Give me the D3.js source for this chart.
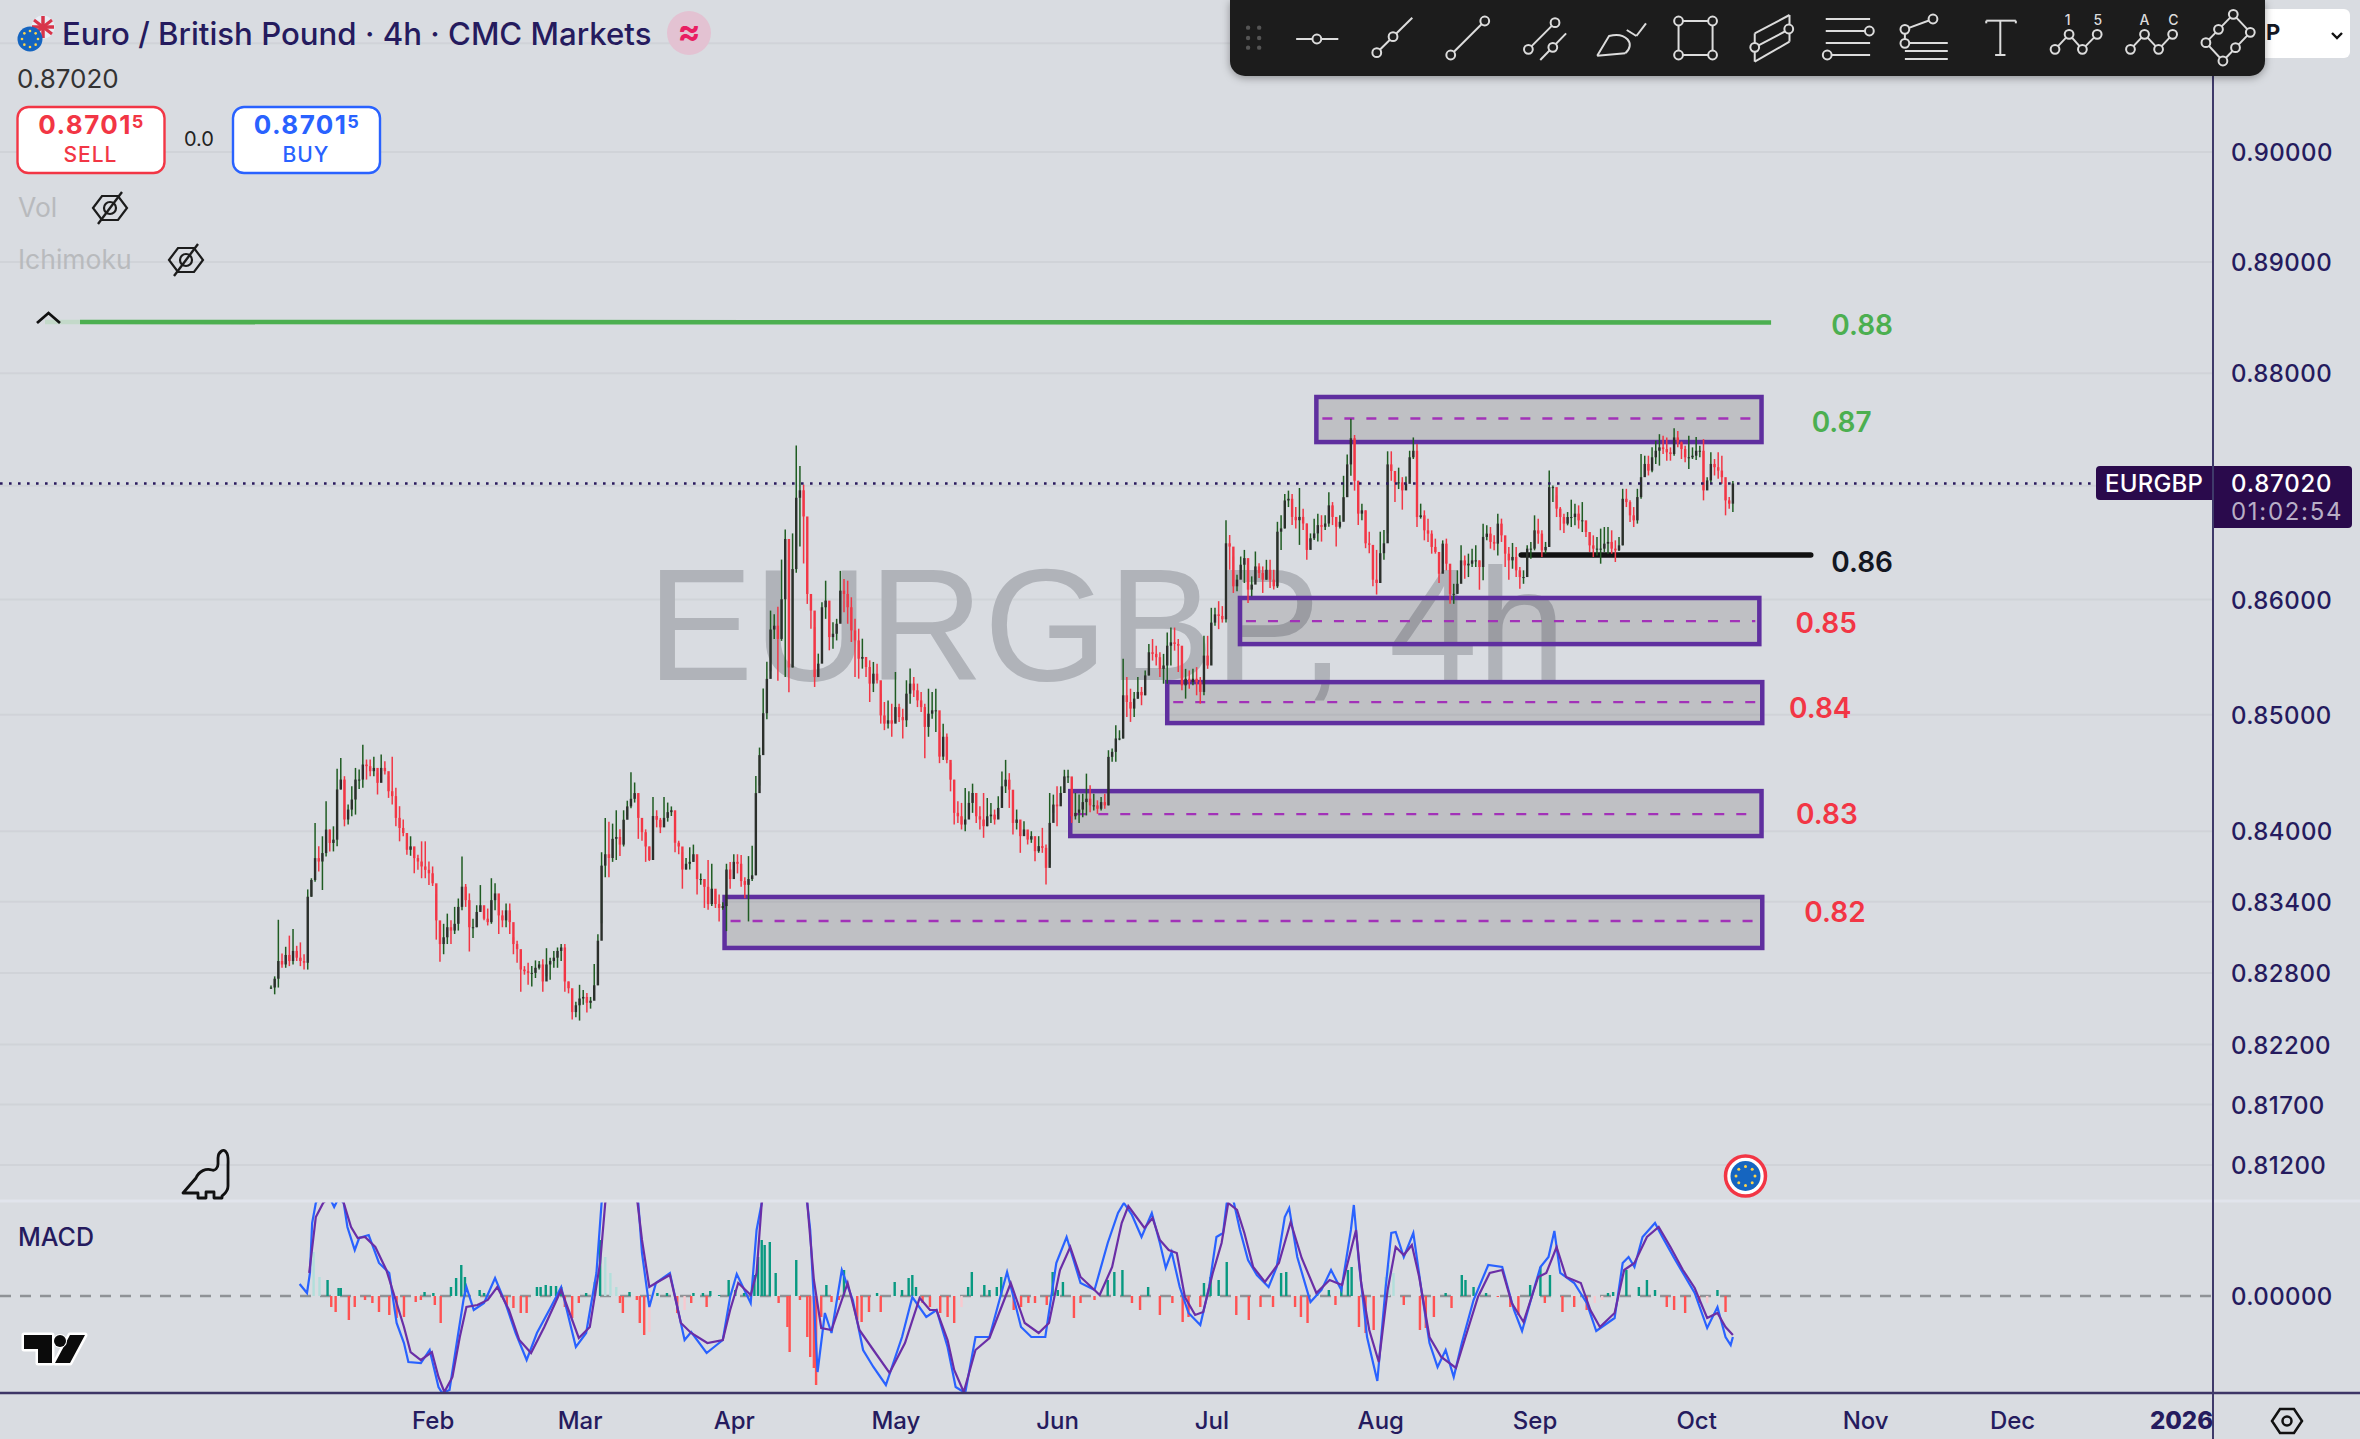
<!DOCTYPE html>
<html><head><meta charset="utf-8"><title>EURGBP 4h</title>
<script src="https://cdn.jsdelivr.net/npm/d3@7"></script>
<style>html,body{margin:0;padding:0;background:#d9dce1;overflow:hidden}svg{display:block;font-family:Inter,"Noto Sans",sans-serif}</style>
</head><body><div id="chart"></div>
<script>
// Candle values (12h steps, in 0.00001 price units)
const highs=[
82694,82771,83248,82963,83020,83114,83171,83028,83057,82957,
83505,83600,84071,83871,83957,84257,84014,84042,84534,84628,
84471,84228,84385,84542,84528,84742,84614,84614,84637,84500,
84657,84600,84471,84637,84371,84214,84100,83962,83957,83857,
83800,83914,83914,83742,83700,83465,83185,83214,83300,83243,
83357,83428,83785,83551,83471,83257,83371,83542,83357,83343,
83600,83557,83414,83328,83385,83385,83100,83071,82985,82857,
82885,82857,82905,82900,82914,83008,82928,82985,83014,83043,
83043,82728,82614,82557,82700,82657,82631,82598,82875,83126,
83821,84114,84082,84065,84179,84016,84179,84261,84505,84417,
84326,84049,84016,83870,84293,84179,84114,84293,84245,84212,
84114,83919,83821,83772,83863,83886,83755,83641,83593,83755,
83723,83495,83462,83397,83723,83739,83804,83804,83798,83609,
83788,83876,84473,84717,85227,85459,85904,85871,85937,86350,
86614,85591,86580,87356,87175,87010,86367,86020,85760,85529,
85977,86165,85832,85803,85832,86251,86179,86165,86020,85832,
85746,85659,85471,85471,85457,85442,85182,85110,85124,85095,
85370,85095,85052,85298,85399,85326,85269,85196,85095,85225,
85196,85225,84852,84923,84838,84583,84441,84256,84242,84370,
84341,84407,84327,84213,84327,84284,84242,84185,84299,84512,
84611,84497,84242,84185,84071,84086,83986,84000,83944,83958,
84029,83887,84327,84313,84384,84384,84526,84526,84455,84327,
84313,84321,84493,84393,84321,84264,84292,84321,84694,84709,
84909,84866,85484,85326,85225,85197,85326,85240,85383,85613,
85656,85598,85541,85527,85713,85756,85756,85656,85354,85397,
85383,85397,85412,85326,85684,85684,85928,85928,85986,85943,
86696,86566,86377,86218,86377,86435,86203,86203,86421,86319,
86290,86348,86348,86261,86682,86740,86928,86957,86928,86812,
86980,86798,86667,86580,86710,86754,86740,86740,86943,86856,
86696,86740,87088,87276,87595,87450,87044,86841,86783,86595,
86435,86435,86595,86609,87305,87305,87102,87160,87076,87082,
87310,87428,87369,86842,86783,86710,86607,86534,86343,86519,
86534,86285,86138,86256,86475,86387,86402,86446,86475,86343,
86666,86651,86636,86563,86754,86710,86519,86461,86496,86461,
86285,86256,86475,86505,86739,86710,86607,86505,87134,87003,
86915,86812,86754,86768,86877,86842,86827,86856,86680,86592,
86563,86549,86622,86636,86636,86607,86519,86549,86973,86973,
86871,86812,86973,87281,87266,87266,87340,87398,87457,87442,
87428,87340,87510,87486,87392,87354,87442,87340,87433,87354,
87413,87076,87296,87237,87296,87266,87003,86900,87041];
const lows=[
82665,82620,82677,82843,82843,82857,82871,82900,82857,82828,
82828,83443,83571,83657,83500,83785,83828,83828,83871,84357,
84042,84057,84128,84142,84362,84371,84442,84471,84471,84314,
84442,84485,84285,84228,84042,83914,83957,83800,83791,83642,
83671,83600,83600,83542,83534,83080,82894,82957,83043,83043,
83128,83157,83328,83357,82980,83094,83185,83328,83243,83200,
83214,83328,83128,83185,83185,83128,82957,82885,82642,82785,
82700,82685,82757,82828,82642,82771,82742,82843,82843,82900,
82642,82628,82408,82428,82400,82533,82468,82500,82598,82696,
83218,83609,83609,83739,83755,83788,83870,84130,84196,84245,
83935,83919,83739,83746,83755,84033,83984,84065,84082,84130,
83821,83804,83511,83674,83674,83739,83462,83544,83348,83332,
83364,83348,83234,83332,83152,83511,83609,83641,83527,83430,
83234,83576,83625,84391,84701,84962,85376,85657,85294,85640,
85327,85195,85409,86234,86465,86316,85962,85746,85240,85341,
85500,85832,85558,85572,85644,85803,85890,85789,85630,85326,
85312,85399,85326,85110,85196,85269,84923,84867,84881,84810,
84938,84938,84796,84895,85095,85153,85066,85023,84625,84810,
84966,84852,84583,84611,84583,84341,84057,84071,84015,84000,
84128,84157,84071,84015,83944,84043,84071,84057,84128,84256,
84327,84199,83972,84015,83816,83972,83887,83901,83745,83816,
83816,83546,83716,84157,84043,84242,84327,84412,84071,84100,
84071,84120,84135,84163,84178,84149,84178,84192,84221,84594,
84594,84780,84795,84981,84938,84981,85139,85082,85168,85340,
85469,85426,85326,85268,85268,85426,85555,85369,85211,85139,
85225,85254,85168,85096,85168,85397,85570,85771,85742,85799,
85799,86261,86058,86073,86232,86145,85971,86029,86174,86189,
86058,86174,86102,86087,86102,86435,86624,86812,86653,86624,
86479,86609,86348,86508,86522,86508,86508,86609,86638,86653,
86464,86624,86696,86928,87088,86957,86653,86696,86450,86406,
86116,86044,86319,86348,86580,87044,86856,86971,86789,86970,
87076,87237,86636,86710,86519,86504,86402,86402,86144,86314,
86256,85963,85963,86050,86226,86182,86197,86285,86285,86086,
86168,86519,86446,86431,86387,86505,86285,86173,86270,86197,
86094,86138,86343,86358,86431,86490,86373,86402,86461,86856,
86724,86607,86584,86651,86636,86651,86622,86592,86549,86417,
86373,86387,86314,86417,86402,86402,86329,86425,86475,86812,
86680,86636,86666,86885,87091,87091,87120,87193,87178,87281,
87222,87222,87266,87340,87237,87208,87149,87237,87228,87252,
86871,87003,87017,87091,87061,87017,86739,86798,86768];
const closes=[
82677,82751,82900,82871,82951,82900,82985,82928,82900,82885,
83443,83585,83771,83742,83814,84014,83900,83928,84357,84442,
84100,84185,84271,84442,84442,84571,84557,84514,84542,84414,
84542,84514,84342,84300,84114,84028,83985,83842,83871,83771,
83742,83700,83671,83642,83557,83243,83043,83100,83185,83157,
83214,83357,83528,83414,83185,83185,83314,83371,83257,83228,
83414,83471,83285,83243,83328,83228,83043,83000,82828,82814,
82800,82800,82843,82871,82728,82871,82900,82928,82985,83014,
82728,82671,82471,82528,82585,82598,82549,82566,82696,83071,
83707,83804,83772,83935,83951,83886,84098,84212,84277,84326,
84114,83992,83870,83755,84130,84098,84033,84114,84163,84179,
83902,83870,83674,83723,83739,83804,83593,83593,83527,83381,
83511,83381,83348,83364,83674,83593,83739,83723,83576,83544,
83593,83625,84326,84652,85013,85310,85739,85772,85657,86003,
86531,85409,86267,86894,86960,86729,86049,85904,85326,85442,
85933,85991,85673,85702,85789,86078,86049,85933,85731,85644,
85485,85500,85413,85269,85355,85298,84994,84923,84952,84923,
85066,84980,84952,85182,85269,85211,85124,85066,84895,85009,
85038,85038,84639,84810,84611,84441,84157,84128,84057,84100,
84242,84327,84128,84100,84043,84128,84142,84100,84199,84384,
84441,84355,84071,84100,83958,84015,83929,83958,83830,83873,
83858,83688,84071,84228,84213,84327,84469,84469,84128,84157,
84185,84249,84278,84221,84221,84192,84249,84221,84637,84680,
84795,84795,85168,85110,85053,85139,85197,85168,85340,85541,
85527,85498,85397,85426,85598,85627,85613,85598,85254,85311,
85283,85311,85283,85197,85512,85426,85799,85871,85857,85828,
86493,86464,86116,86174,86305,86363,86087,86131,86290,86232,
86174,86261,86174,86116,86595,86624,86870,86885,86725,86696,
86725,86667,86435,86537,86580,86653,86638,86667,86827,86725,
86638,86682,86899,87189,87421,87044,86754,86783,86493,86479,
86174,86145,86406,86493,87189,87131,87030,87030,86959,87017,
87252,87310,86724,86739,86607,86578,86461,86417,86226,86490,
86314,86050,86050,86138,86343,86299,86314,86343,86343,86285,
86549,86578,86505,86490,86666,86563,86402,86343,86373,86256,
86197,86197,86446,86446,86607,86578,86431,86461,86988,86988,
86798,86724,86666,86724,86724,86754,86695,86695,86592,86475,
86446,86446,86446,86490,86505,86446,86431,86475,86885,86856,
86739,86695,86900,87076,87193,87134,87252,87310,87340,87325,
87296,87281,87428,87384,87325,87252,87252,87266,87310,87310,
86959,87047,87193,87164,87134,87076,86871,86842,87020];

// MACD pane, values in 0.00001 units, read at the day positions listed
const macdDays=[3.9,4.9,5.3,5.6,6.1,6.9,8,8.6,9.2,9.9,10.4,11.4,12,13.3,14.7,16.1,17.1,18.1,18.7,20.4,21.6,22.8,23.3,24.3,25.2,26.2,26.6,27.6,29,30.5,31.9,33.3,34.8,36.2,38.1,39.5,41.5,42.9,44.3,45,45.5,47.2,49.1,50,50.5,51.5,52.4,54.3,56.3,57.2,59.3,61.5,62.5,63.4,65.3,66.1,66.8,67.7,71,73,73.4,74.4,75.4,76.3,77.7,79.2,80.6,82,83.7,85.9,87.3,89.2,90.6,92.1,93.2,94.5,95.9,97.8,100.2,102.1,103.5,105.4,106.9,108.3,110.2,112.1,113.9,115.3,116.1,117.2,118.5,119.9,121,121.8,122.6,123.7,124.9,126.5,127.7,128.7,129.6,130.1,130.9,131.9,133,134.2,135.8,136.9,138,138.6,139.7,141.5,143,144.3,145.7,147,147.4,148.1,149.2,150.6,151.7,152.5,153.1,154.2,155.5,156.6,157.7,158.8,159.9,161,162.1,163.7,165.7,167.6,169.2,170.3,172,172.8,173.9,174.7,175.5,177.4,179.1,180.4,182.9,184,184.8,185.6,186.7,188.4,189.4,191,192.2,193.8,195.5,196.9,198,198.7,199];
const macdVals=[12,3,23,73,93,103,98,89,98,93,69,46,58,61,33,23,-27,-47,-66,-67,-54,-91,-97,-94,-51,-4,9,-14,-7,18,-7,-37,-64,-37,-11,9,-51,-37,23,93,109,116,109,93,43,-11,13,23,-44,-36,-57,-44,-1,22,-7,66,93,126,126,93,66,-76,-17,-37,26,-4,-54,-71,-89,-41,-1,-21,-14,-51,-91,-97,-41,-41,24,-31,-41,-41,33,59,13,6,53,83,93,81,59,83,53,28,44,9,-17,-29,9,59,63,93,99,66,36,21,9,29,79,88,39,-6,6,26,6,66,91,33,-41,-85,6,63,64,39,63,6,-47,-71,-54,-81,-47,-4,31,29,-14,-35,9,29,39,65,23,13,-7,-35,-22,33,39,29,59,73,59,38,23,3,-32,-11,-41,-49,-41];
const signalDays=[5.2,6.1,7.1,9,9.9,10.9,11.8,12.8,14.2,15.7,17.1,18.1,19,20.4,21.9,22.8,23.6,24.7,25.7,26.6,28.1,29.5,30.8,32.4,33.8,35.4,37.2,39.5,41.9,43.4,44.8,45.5,46.2,49.1,49.9,50.5,51.5,52.4,54.3,55.8,57.2,59.4,61.5,62.5,63.6,65.3,66.1,66.8,68.2,72.5,73,73.9,74.9,76.3,78.5,80.1,82,84.2,86.3,88.3,89.7,90.6,92.1,93,94.3,95.9,97.8,100.7,102.6,104.5,105.9,107.4,108.8,110.2,112.1,112.8,114.5,115.8,116.7,117.8,118.9,120,121,122.2,123.3,124.4,125.8,126.9,128.2,129.4,130.3,131.5,132.5,133.7,135.3,137.2,138.8,140.3,142.3,144.1,145.8,147.7,148.4,149.5,150.8,152,153.1,154.2,155.3,156.3,157.7,159.3,161.3,162.6,164.3,165.9,167.6,168.9,170.5,172.5,173.6,175,176.3,178.3,179.6,180.9,182.9,184.2,185.6,187.3,188.9,190.5,192.2,193.8,195.5,196.9,198,199];
const signalVals=[23,79,93,106,93,69,58,59,49,26,-7,-31,-56,-64,-56,-81,-96,-81,-41,-11,-9,-4,9,-14,-44,-57,-31,6,-42,-31,33,93,116,109,93,56,9,13,21,-27,-37,-47,-44,-14,13,1,23,93,123,123,93,16,-32,-34,13,-34,-54,-77,-47,-2,-14,-14,-44,-74,-96,-54,-42,13,-27,-37,-27,26,49,19,6,1,29,73,90,79,68,78,56,46,43,-1,-19,-16,23,53,93,86,63,29,14,33,74,38,3,16,11,66,13,-34,-66,6,49,41,51,19,-41,-61,-72,-41,-1,23,26,-7,-26,19,23,49,19,13,-14,-31,-17,26,33,59,69,49,26,8,-22,-17,-31,-39];
const histDays=[5.8,6.6,7.7,8.2,8.8,9.2,9.5,10.6,11.4,12.8,13.8,14.7,16.1,17.1,18.1,19.7,20.4,20.9,22.1,22.3,23.1,24.5,25.2,25.9,26.4,28.4,29,32.1,33,34,34.8,36.2,36.7,37.4,38.1,38.8,39.5,40,41,41.9,42.9,44.1,44.8,45.5,46.2,47,47.5,47.9,48.8,49.8,50.2,50.8,51.5,52.6,53.9,55.3,56.3,57.2,57.5,58.8,59.3,59.8,61,62.3,63.2,64.4,65.8,66.3,66.8,67.2,67.9,68.7,69.1,70.3,70.6,71.5,72,73,73.4,73.9,74.2,74.9,75.6,76.3,77.3,78,79.8,80.4,81.4,82.5,83,84.9,85.9,86.8,87.3,87.8,88.7,89.7,91.1,92.1,93,94,94.9,95.4,97.1,97.8,98.8,99.4,101.1,102.1,103.1,104,105.6,106.4,107.1,107.8,109.3,110.2,112.1,113.9,114.8,115.9,117.2,118.3,119.4,121,122.7,124.1,124.9,126.5,127,127.9,129,130.1,131.4,133.1,134.7,136.4,137.5,138.2,139.4,140.2,141.1,142.4,144,144.9,145.7,146.6,147.1,148.1,149,150.1,151.7,152.2,152.8,154.2,156.4,157.2,158.3,159.9,160.7,162.1,162.6,163.7,165.4,167,168.7,169.8,171.4,172.8,173.4,174.1,175.8,177.4,179.1,180.2,181.2,182,182.7,184.5,186.2,187.3,188.4,190,191,192.5,194.4,195.5,196.9,198];
const histVals=[44,19,16,-11,-16,8,8,-24,-11,-4,-7,-16,-19,-22,-21,-6,-4,4,3,-9,-27,9,18,31,19,6,3,-9,-12,-17,-17,9,9,11,10,10,9,-11,-22,-7,3,14,56,39,23,9,-7,-17,4,-4,-27,-39,-36,3,3,-17,-14,-7,3,3,-11,5,1,16,6,3,21,39,56,51,54,23,-7,-31,-56,36,-4,-41,-61,-72,-89,-21,11,-6,-4,26,-24,-26,-16,3,-16,14,6,18,21,9,-7,-11,-17,-21,-27,-11,9,24,11,6,9,19,-14,-11,-7,-7,-9,24,6,14,-22,-7,-4,16,24,26,-7,-14,9,-19,-7,-26,-21,-11,13,19,16,34,-19,-24,-11,-11,23,24,-11,-21,-27,3,6,-9,9,26,29,-31,-37,-34,19,31,23,-9,-34,-32,-21,3,-12,21,16,9,3,-1,-11,-19,11,29,-7,21,-16,-11,-14,-7,-4,3,4,26,9,16,6,-11,-14,-17,-7,-7,6,-16];
const histFadedDays=[5.8,6.6,45.5,46.2,47,51.5,56.3,94,151.7,152.2,152.8,180.2,181.2,195.5];

// Axes
const monthLabels=["Feb","Mar","Apr","May","Jun","Jul","Aug","Sep","Oct","Nov","Dec","2026"];
const monthDays=[22,42,63,85,107,128,151,172,194,217,237,260];
const gridPrices=[0.91,0.90,0.89,0.88,0.87,0.86,0.85,0.84,0.834,0.828,0.822,0.817,0.812];
const labelledPrices=[0.90,0.89,0.88,0.86,0.85,0.84,0.834,0.828,0.822,0.817,0.812];

// Drawn zones and levels
const zoneNames=["0.87","0.85","0.84","0.83","0.82"];
const zoneTops=[0.87788,0.86014,0.85282,0.84343,0.83441];
const zoneBottoms=[0.87387,0.85612,0.84928,0.83959,0.83010];
const zoneMids=[0.87596,0.85812,0.85109,0.84146,0.83238];
const zoneStartDays=[142.3,131.9,122,108.8,61.74];
const zoneEndDays=[202.9,202.6,203,202.9,203];
const levelTexts=["0.88","0.87","0.86","0.85","0.84","0.83","0.82"];
const levelPrices=[0.88441,0.87574,0.86337,0.85808,0.85066,0.84156,0.83326];
const levelDays=[216.6,213.8,216.6,211.7,210.9,211.8,212.9];
const levelColors=["#4caf50","#4caf50","#131722","#f23645","#f23645","#f23645","#f23645"];
const lastPrice=0.8702;

const W=2360,H=1439,axisX=2213,paneTop=1202,paneBottom=1393;
const ink="#251b5e",bg="#d9dce1";
const svg=d3.select("#chart").append("svg").attr("width",W).attr("height",H).attr("viewBox",[0,0,W,H]);
svg.append("rect").attr("width",W).attr("height",H).attr("fill",bg);
const x=d3.scaleLinear().domain([0,260]).range([271,2181]);
const y=d3.scaleLog().domain([0.812,0.90]).range([1165,152]);
const my=d3.scaleLinear().domain([-97,94]).range([paneBottom,paneTop]);
const defs=svg.append("defs");
defs.append("clipPath").attr("id","pane").append("rect").attr("x",0).attr("y",paneTop).attr("width",axisX).attr("height",paneBottom-paneTop);
const sh=defs.append("filter").attr("id","shadow").attr("x","-5%").attr("y","-20%").attr("width","110%").attr("height","150%");
sh.append("feDropShadow").attr("dx",0).attr("dy",2).attr("stdDeviation",4).attr("flood-color","#000").attr("flood-opacity",.35);

// gridlines
svg.append("g").selectAll("line").data(gridPrices).join("line")
 .attr("x1",0).attr("x2",axisX).attr("y1",d=>y(d)).attr("y2",d=>y(d)).attr("stroke","#d0d3d8").attr("stroke-width",2);

// watermark
svg.append("text").text("EURGBP, 4h").attr("x",647).attr("y",680).attr("font-family","'Liberation Sans',Arial,sans-serif")
 .attr("font-size",159.5).attr("fill","#b0b3b9");

// zones
const zg=svg.append("g");
zg.selectAll("rect").data(zoneNames).join("rect")
 .attr("x",(d,i)=>x(zoneStartDays[i])).attr("width",(d,i)=>x(zoneEndDays[i])-x(zoneStartDays[i]))
 .attr("y",(d,i)=>y(zoneTops[i])).attr("height",(d,i)=>y(zoneBottoms[i])-y(zoneTops[i]))
 .attr("fill","rgba(18,6,10,.13)").attr("stroke","#5f2f9f").attr("stroke-width",4.5);
zg.selectAll("line").data(zoneNames).join("line")
 .attr("x1",(d,i)=>x(zoneStartDays[i])+6).attr("x2",(d,i)=>x(zoneEndDays[i])-4)
 .attr("y1",(d,i)=>y(zoneMids[i])).attr("y2",(d,i)=>y(zoneMids[i]))
 .attr("stroke","#a232b8").attr("stroke-width",2.4).attr("stroke-dasharray","10 12");

// level lines
svg.append("line").attr("x1",x(-26)).attr("x2",x(204.2)).attr("y1",y(0.88459)).attr("y2",y(0.88455)).attr("stroke","#4caf50").attr("stroke-width",4.6);
svg.append("line").attr("x1",45).attr("x2",x(-26)).attr("y1",y(0.88459)).attr("y2",y(0.88459)).attr("stroke","#c3d9c9").attr("stroke-width",4.6);
svg.append("line").attr("x1",x(170.2)).attr("x2",x(209.6)).attr("y1",y(0.8639)).attr("y2",y(0.8639)).attr("stroke","#111").attr("stroke-width",5.5).attr("stroke-linecap","round");
svg.append("g").selectAll("text").data(levelTexts).join("text").text(d=>d)
 .attr("x",(d,i)=>x(levelDays[i])).attr("y",(d,i)=>y(levelPrices[i])+1).attr("text-anchor","middle").attr("dominant-baseline","central")
 .attr("font-size",28).attr("font-weight",600).attr("fill",(d,i)=>levelColors[i]);

// candles
const candles=closes.map((c,i)=>({d:i/2,h:highs[i]/1e5,l:lows[i]/1e5,c:c/1e5,o:(i?closes[i-1]:c)/1e5}));
const cg=svg.append("g");
cg.selectAll("line").data(candles).join("line")
 .attr("x1",d=>x(d.d)).attr("x2",d=>x(d.d)).attr("y1",d=>y(d.h)).attr("y2",d=>y(d.l))
 .attr("stroke",d=>d.c>=d.o?"#1f5c22":"#f23645").attr("stroke-width",1.5);
cg.selectAll("rect").data(candles).join("rect")
 .attr("x",d=>x(d.d)-1.2).attr("width",2.4)
 .attr("y",d=>y(Math.max(d.o,d.c))).attr("height",d=>Math.max(1,Math.abs(y(d.o)-y(d.c))))
 .attr("fill",d=>d.c>=d.o?"#2b2f2b":"#f23645");

// last price line
svg.append("line").attr("x1",0).attr("x2",2096).attr("y1",y(lastPrice)).attr("y2",y(lastPrice))
 .attr("stroke","#2a1a5e").attr("stroke-width",2.4).attr("stroke-dasharray","2.6 6.4");

// MACD pane
const faded=new Set(histFadedDays);
const mg=svg.append("g").attr("clip-path","url(#pane)");
mg.append("line").attr("x1",0).attr("x2",axisX).attr("y1",my(0)).attr("y2",my(0)).attr("stroke","#8f9296").attr("stroke-width",2.4).attr("stroke-dasharray","11 9");
mg.selectAll("rect").data(histDays).join("rect")
 .attr("x",d=>x(d)-1.2).attr("width",2.4)
 .attr("y",(d,i)=>Math.min(my(histVals[i]),my(0))).attr("height",(d,i)=>Math.abs(my(histVals[i])-my(0)))
 .attr("fill",(d,i)=>histVals[i]>=0?(faded.has(d)?"#b2dfdb":"#089981"):(faded.has(d)?"#f8c9cf":"#ff5252"));
const lineGen=d3.line().x(d=>x(d[0])).y(d=>my(d[1]));
mg.append("path").attr("d",lineGen(macdDays.map((d,i)=>[d,macdVals[i]]))).attr("fill","none").attr("stroke","#2962ff").attr("stroke-width",2.2);
mg.append("path").attr("d",lineGen(signalDays.map((d,i)=>[d,signalVals[i]]))).attr("fill","none").attr("stroke","#6a2ea6").attr("stroke-width",2.2);

// separators
svg.append("line").attr("x1",0).attr("x2",W).attr("y1",1201).attr("y2",1201).attr("stroke","#e1e4ec").attr("stroke-width",3);
svg.append("line").attr("x1",0).attr("x2",W).attr("y1",paneBottom).attr("y2",paneBottom).attr("stroke","#3d3566").attr("stroke-width",2.6);
svg.append("line").attr("x1",axisX).attr("x2",axisX).attr("y1",0).attr("y2",H).attr("stroke","#3f3a6a").attr("stroke-width",2);

// axes
function styleAxis(g,size){g.select(".domain").remove();g.selectAll(".tick line").remove();
 g.selectAll("text").attr("fill",ink).attr("font-size",size).attr("font-family","Inter,sans-serif").attr("font-weight",500);}
svg.append("g").attr("transform",`translate(${axisX+18},1)`)
 .call(d3.axisRight(y).tickValues(labelledPrices).tickFormat(d3.format(".5f")).tickSize(0).tickPadding(0)).call(g=>styleAxis(g,24))
 .call(g=>g.selectAll("text").attr("letter-spacing",.4));
svg.append("g").attr("transform",`translate(${axisX+18},1)`)
 .call(d3.axisRight(my).tickValues([0]).tickFormat(d3.format(".5f")).tickSize(0).tickPadding(0)).call(g=>styleAxis(g,24))
 .call(g=>g.selectAll("text").attr("letter-spacing",.4));
svg.append("g").attr("transform",`translate(0,${paneBottom+14.500})`)
 .call(d3.axisBottom(x).tickValues(monthDays).tickFormat((d,i)=>monthLabels[i]).tickSize(0).tickPadding(0)).call(g=>styleAxis(g,24))
 .call(g=>g.selectAll("text").attr("dy","0.9em").attr("font-weight",(d,i)=>monthLabels[i]==="2026"?800:500));
// the last month label is cut by the price axis: cover what overflows
svg.append("rect").attr("x",axisX+1).attr("y",paneBottom+2).attr("width",W-axisX).attr("height",H-paneBottom).attr("fill",bg);

// price tags
const tag="#2a0a4c";
svg.append("path").attr("d","M2212,466H2100a4,4 0 0 0 -4,4V496a4,4 0 0 0 4,4H2212Z").attr("fill",tag);
svg.append("path").attr("d","M2214,466H2348a4,4 0 0 1 4,4V524a4,4 0 0 1 -4,4H2214Z").attr("fill",tag);
svg.append("text").text("EURGBP").attr("x",2105).attr("y",492).attr("font-size",24).attr("font-weight",500).attr("fill","#fff").attr("letter-spacing",.2);
svg.append("text").text("0.87020").attr("x",2231).attr("y",492).attr("font-size",24).attr("font-weight",500).attr("fill","#fff").attr("letter-spacing",.8);
svg.append("text").text("01:02:54").attr("x",2231).attr("y",520).attr("font-size",24).attr("font-weight",400).attr("fill","#b8aec6").attr("letter-spacing",1.7);

// header
const fl=svg.append("g");
fl.append("circle").attr("cx",43).attr("cy",27).attr("r",11.5).attr("fill","#e8ecf4");
fl.append("path").attr("d","M34,20L52,34M52,20L34,34").attr("stroke","#d8344a").attr("stroke-width",3);
fl.append("path").attr("d","M43,16V38M32,27H54").attr("stroke","#d8344a").attr("stroke-width",3.5);
fl.append("circle").attr("cx",30).attr("cy",39).attr("r",12.5).attr("fill","#1565c0");
d3.range(8).forEach(k=>fl.append("circle").attr("cx",30+8*Math.cos(k*Math.PI/4)).attr("cy",39+8*Math.sin(k*Math.PI/4)).attr("r",1.3).attr("fill","#ffd54a"));
svg.append("text").text("Euro / British Pound · 4h · CMC Markets").attr("x",62).attr("y",45).attr("font-size",31.2).attr("font-weight",500).attr("fill",ink);
svg.append("circle").attr("cx",689).attr("cy",33).attr("r",22).attr("fill","#e3c2d2");
svg.append("text").text("≈").attr("x",689).attr("y",43).attr("text-anchor","middle").attr("font-size",34).attr("font-weight",700).attr("fill","#e91e63");
svg.append("text").text("0.87020").attr("x",17).attr("y",88).attr("font-size",26).attr("fill","#333").attr("font-weight",400);

function priceBox(bx,col,big,small,lab){
 svg.append("rect").attr("x",bx).attr("y",107).attr("width",147).attr("height",66).attr("rx",11).attr("fill","#fff").attr("stroke",col).attr("stroke-width",2.4);
 const t=svg.append("text").attr("x",bx+74).attr("y",134).attr("text-anchor","middle").attr("fill",col).attr("font-weight",700).attr("font-size",26).attr("letter-spacing",1.4);
 t.append("tspan").text(big); t.append("tspan").text(small).attr("font-size",18).attr("dy",-6);
 svg.append("text").text(lab).attr("x",bx+73).attr("y",162).attr("text-anchor","middle").attr("fill",col).attr("font-size",21).attr("font-weight",500).attr("letter-spacing",1);
}
priceBox(17.5,"#f23645","0.8701","5","SELL");
priceBox(233,"#2962ff","0.8701","5","BUY");
svg.append("text").text("0.0").attr("x",199).attr("y",146).attr("text-anchor","middle").attr("font-size",20).attr("fill","#222");
svg.append("text").text("Vol").attr("x",18).attr("y",217).attr("font-size",26.5).attr("fill","#b8babd");
svg.append("text").text("Ichimoku").attr("x",18).attr("y",269).attr("font-size",26.5).attr("fill","#b8babd");
function eye(cx,cy){const g=svg.append("g").attr("transform",`translate(${cx},${cy})`).attr("fill","none").attr("stroke","#1c1c1c").attr("stroke-width",2.2);
 g.append("path").attr("d","M-17,0L-8,-12H8L17,0L8,12H-8Z");
 g.append("circle").attr("r",6);
 g.append("line").attr("x1",-12).attr("y1",16).attr("x2",12).attr("y2",-16).attr("stroke-width",2.4);}
eye(110,208); eye(186,260);
svg.append("path").attr("d","M37,323L48.500,313L60,323").attr("fill","none").attr("stroke","#111").attr("stroke-width",2.8);

// toolbar
const tX=v=>1200+v/1.352,tY=v=>v/3;
svg.append("rect").attr("x",2240).attr("y",9).attr("width",110).attr("height",49).attr("rx",6).attr("fill","#fff");
svg.append("text").text("P").attr("x",2266).attr("y",40).attr("font-size",22).attr("font-weight",700).attr("fill","#131722");
svg.append("path").attr("d","M2332,33L2337,38L2342,33").attr("fill","none").attr("stroke","#111").attr("stroke-width",2.4);
svg.append("path").attr("d","M1230,0H2265V61a15,15 0 0 1 -15,15H1245a15,15 0 0 1 -15,-15Z").attr("fill","#1e1e1e").attr("filter","url(#shadow)");
const tb=svg.append("g").attr("stroke","#dcdcdc").attr("stroke-width",2).attr("fill","none");
[65,80].forEach(a=>[83,114,143].forEach(b=>svg.append("circle").attr("cx",tX(a)).attr("cy",tY(b)).attr("r",2.2).attr("fill","#555")));
const segs=[[130,117,187,117],[239,158,287,53],[339,165,385,63],[444,148,480,68],[460,180,495,100],
 [647,63,693,63],[693,63,693,165],[693,165,647,165],[647,165,647,63],
 [750,100,797,45],[750,185,797,125],[750,100,750,185],[797,45,797,125],[750,142,797,87],
 [846,57,906,57],[846,93,905,93],[846,129,906,129],[848,165,906,165],
 [953,88,991,57],[953,88,953,130],[953,129,1011,129],[953,153,1011,153],[953,177,1011,177],
 [1063,62,1103,62],[1063,62,1063,70],[1103,62,1103,70],[1082,62,1082,165],[1075,165,1089,165],
 [1156,148,1175,103],[1175,103,1193,148],[1193,148,1213,103],
 [1258,148,1277,103],[1277,103,1296,148],[1296,148,1315,103],
 [1397,43,1420,97],[1420,97,1383,183],[1383,183,1360,128],[1360,128,1397,43],
 [537,167,575,160],[577,90,590,108],[590,108,603,70]];
segs.forEach(s=>tb.append("line").attr("x1",tX(s[0])).attr("y1",tY(s[1])).attr("x2",tX(s[2])).attr("y2",tY(s[3])));
tb.append("path").attr("d",`M${tX(537)},${tY(167)}L${tX(553)},${tY(108)}C${tX(575)},${tY(95)} ${tX(590)},${tY(130)} ${tX(575)},${tY(160)}`);
const dots=[[158,117],[239,158],[261,110],[339,165],[385,63],[444,148],[480,68],[477,142],[647,63],[693,63],[647,165],[693,165],[750,142],[796,87],[905,93],[848,165],[991,57],[953,88],[953,130],[1156,148],[1175,103],[1193,148],[1213,103],[1258,148],[1277,103],[1296,148],[1315,103],[1397,43],[1420,97],[1400,143],[1383,183],[1360,128],[1377,88]];
dots.forEach(p=>tb.append("circle").attr("cx",tX(p[0])).attr("cy",tY(p[1])).attr("r",4.4).attr("fill","#1e1e1e"));
[["1",1173],["5",1214],["A",1277],["C",1316]].forEach(t=>svg.append("text").text(t[0]).attr("x",tX(t[1])).attr("y",25).attr("text-anchor","middle").attr("font-size",14).attr("font-weight",500).attr("fill","#dcdcdc"));

// dino, logo, badge, settings
svg.append("path").attr("d","M183,1193L196,1178C199,1171 206,1168 212,1170C215,1171 218,1168 218,1164V1158C218,1152 224,1148 226,1152C229,1155 228,1160 228,1166V1186C228,1192 224,1194 222,1196V1198H214V1192H206V1198H198V1193Z")
 .attr("fill","none").attr("stroke","#111").attr("stroke-width",2.8).attr("stroke-linejoin","round");
const logo=svg.append("g");
logo.append("path").attr("d","M24,1335H52V1363H38V1349H24ZM55,1363L70,1335H85L70,1363Z").attr("fill","#0b0b0b").attr("stroke","#fff").attr("stroke-width",5).attr("paint-order","stroke").attr("stroke-linejoin","round");
logo.append("circle").attr("cx",60).attr("cy",1341).attr("r",6).attr("fill","#0b0b0b").attr("stroke","#fff").attr("stroke-width",2).attr("paint-order","stroke");
svg.append("text").text("MACD").attr("x",18).attr("y",1246).attr("font-size",25).attr("font-weight",500).attr("fill",ink);
svg.append("circle").attr("cx",1745.5).attr("cy",1176).attr("r",20).attr("fill","#fff").attr("stroke","#f23645").attr("stroke-width",3.5);
svg.append("circle").attr("cx",1745.5).attr("cy",1176).attr("r",15).attr("fill","#1565c0");
d3.range(8).forEach(k=>svg.append("circle").attr("cx",1745.5+9.5*Math.cos(k*Math.PI/4)).attr("cy",1176+9.5*Math.sin(k*Math.PI/4)).attr("r",1.5).attr("fill","#ffd54a"));
const gear=svg.append("g").attr("fill","none").attr("stroke","#111").attr("stroke-width",2.5);
gear.append("path").attr("d","M2280,1409H2294L2302,1421L2294,1433H2280L2272,1421Z");
gear.append("circle").attr("cx",2287).attr("cy",1421).attr("r",4.5);
</script></body></html>
